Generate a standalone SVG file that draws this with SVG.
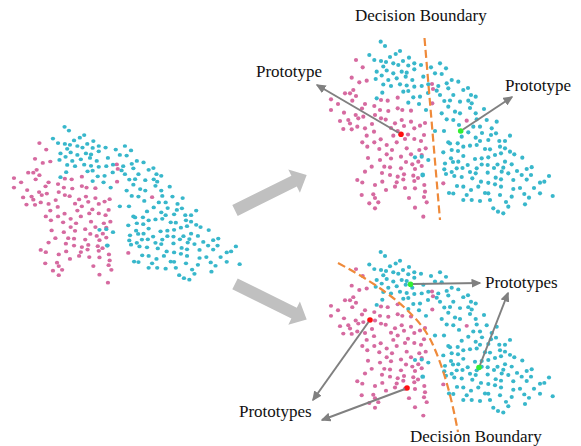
<svg xmlns="http://www.w3.org/2000/svg" xmlns:xlink="http://www.w3.org/1999/xlink" width="581" height="446" viewBox="0 0 581 446">
<style>
.p{fill:#d66aa0}
.c{fill:#38b7cb}
.lbl{font-family:"Liberation Serif","Times New Roman",serif;font-size:17px;fill:#111}
.conn{stroke:#808080;stroke-width:2;fill:none}
.bnd{stroke:#ef8a3a;stroke-width:2.2;fill:none;stroke-dasharray:8,4}
.big{fill:#c0c0c0}
</style>
<defs>
<marker id="ah" markerUnits="userSpaceOnUse" markerWidth="10" markerHeight="9" refX="8.5" refY="4.5" orient="auto">
<path d="M0,0 L10,4.5 L0,9 z" fill="#808080"/>
</marker>
<g id="pts">
<g class="p">
<circle cx="356" cy="60" r="2.1"/><circle cx="362.7" cy="67.3" r="2.1"/><circle cx="351.7" cy="77.7" r="2.1"/><circle cx="359.3" cy="82.3" r="2.1"/><circle cx="366.7" cy="80.7" r="2.1"/><circle cx="353.3" cy="90" r="2.1"/><circle cx="350" cy="93.3" r="2.1"/><circle cx="356" cy="96" r="2.1"/><circle cx="345" cy="93.3" r="2.1"/><circle cx="331" cy="99.3" r="2.1"/><circle cx="352.3" cy="100.7" r="2.1"/><circle cx="331" cy="110" r="2.1"/><circle cx="344" cy="112.7" r="2.1"/><circle cx="365" cy="104" r="2.1"/><circle cx="362" cy="108.5" r="2.1"/><circle cx="374.3" cy="106" r="2.1"/><circle cx="381" cy="100" r="2.1"/><circle cx="387.7" cy="100.7" r="2.1"/><circle cx="397.7" cy="97.7" r="2.1"/><circle cx="380" cy="110" r="2.1"/><circle cx="388.3" cy="111" r="2.1"/><circle cx="397.7" cy="108.3" r="2.1"/><circle cx="402.3" cy="110" r="2.1"/><circle cx="411" cy="110.7" r="2.1"/><circle cx="355.7" cy="115" r="2.1"/><circle cx="348.3" cy="120" r="2.1"/><circle cx="350" cy="123.5" r="2.1"/><circle cx="340" cy="121" r="2.1"/><circle cx="358.3" cy="118.3" r="2.1"/><circle cx="363.3" cy="116.7" r="2.1"/><circle cx="375" cy="115" r="2.1"/><circle cx="381" cy="118.3" r="2.1"/><circle cx="385.7" cy="119.6" r="2.1"/><circle cx="395" cy="123.3" r="2.1"/><circle cx="401.7" cy="120" r="2.1"/><circle cx="404" cy="126" r="2.1"/><circle cx="411" cy="121.7" r="2.1"/><circle cx="420" cy="125.7" r="2.1"/><circle cx="425" cy="123" r="2.1"/><circle cx="432" cy="84" r="2.1"/><circle cx="433" cy="89" r="2.1"/><circle cx="432.3" cy="103.3" r="2.1"/><circle cx="466.7" cy="120.7" r="2.1"/><circle cx="343.3" cy="129" r="2.1"/><circle cx="351.7" cy="129.3" r="2.1"/><circle cx="357.3" cy="126.7" r="2.1"/><circle cx="365" cy="128.3" r="2.1"/><circle cx="366.7" cy="135.7" r="2.1"/><circle cx="374" cy="131.7" r="2.1"/><circle cx="362.3" cy="142.3" r="2.1"/><circle cx="367.3" cy="146.7" r="2.1"/><circle cx="374.3" cy="142.3" r="2.1"/><circle cx="380.7" cy="139.3" r="2.1"/><circle cx="386.7" cy="145" r="2.1"/><circle cx="379.3" cy="149" r="2.1"/><circle cx="393.3" cy="135.7" r="2.1"/><circle cx="396.7" cy="142.3" r="2.1"/><circle cx="397.7" cy="131" r="2.1"/><circle cx="405" cy="139" r="2.1"/><circle cx="408" cy="134.5" r="2.1"/><circle cx="414.3" cy="139" r="2.1"/><circle cx="414.3" cy="128.3" r="2.1"/><circle cx="424" cy="135" r="2.1"/><circle cx="421" cy="141" r="2.1"/><circle cx="406.7" cy="148.3" r="2.1"/><circle cx="411" cy="154.3" r="2.1"/><circle cx="419.3" cy="150" r="2.1"/><circle cx="421.7" cy="155" r="2.1"/><circle cx="425.7" cy="148.3" r="2.1"/><circle cx="386.7" cy="154.3" r="2.1"/><circle cx="380" cy="160" r="2.1"/><circle cx="391" cy="158.5" r="2.1"/><circle cx="401" cy="156.7" r="2.1"/><circle cx="412.3" cy="164.3" r="2.1"/><circle cx="418.3" cy="161.7" r="2.1"/><circle cx="421.7" cy="166" r="2.1"/><circle cx="415" cy="169" r="2.1"/><circle cx="401" cy="168.3" r="2.1"/><circle cx="371.7" cy="166.7" r="2.1"/><circle cx="365" cy="171.7" r="2.1"/><circle cx="384.3" cy="166.7" r="2.1"/><circle cx="390" cy="167.3" r="2.1"/><circle cx="382" cy="173" r="2.1"/><circle cx="390" cy="175" r="2.1"/><circle cx="397.7" cy="176.7" r="2.1"/><circle cx="404" cy="174.3" r="2.1"/><circle cx="413.3" cy="175.7" r="2.1"/><circle cx="414.3" cy="181" r="2.1"/><circle cx="403.3" cy="179.5" r="2.1"/><circle cx="396.7" cy="182.3" r="2.1"/><circle cx="395" cy="186.7" r="2.1"/><circle cx="357.3" cy="180" r="2.1"/><circle cx="362.3" cy="182.5" r="2.1"/><circle cx="375" cy="185" r="2.1"/><circle cx="382.3" cy="181.7" r="2.1"/><circle cx="424.3" cy="185" r="2.1"/><circle cx="415" cy="188.3" r="2.1"/><circle cx="425" cy="191.7" r="2.1"/><circle cx="361.7" cy="195" r="2.1"/><circle cx="373.3" cy="194.3" r="2.1"/><circle cx="375" cy="198" r="2.1"/><circle cx="424" cy="197" r="2.1"/><circle cx="426.7" cy="202.3" r="2.1"/><circle cx="369.3" cy="203.3" r="2.1"/><circle cx="378.3" cy="202.3" r="2.1"/><circle cx="375" cy="208.3" r="2.1"/><circle cx="415" cy="207.7" r="2.1"/><circle cx="423.3" cy="216.7" r="2.1"/><circle cx="443.3" cy="183.3" r="2.1"/>
<circle cx="338" cy="104" r="2.1"/><circle cx="372" cy="124" r="2.1"/><circle cx="391" cy="128" r="2.1"/><circle cx="386" cy="190" r="2.1"/><circle cx="405" cy="188" r="2.1"/><circle cx="409" cy="198" r="2.1"/><circle cx="418" cy="178" r="2.1"/><circle cx="392" cy="150" r="2.1"/><circle cx="368" cy="158" r="2.1"/><circle cx="406" cy="162" r="2.1"/>
</g>
<g class="c">
<circle cx="380.7" cy="41.7" r="2.1"/><circle cx="385" cy="46" r="2.1"/><circle cx="395.7" cy="54" r="2.1"/><circle cx="369.3" cy="55" r="2.1"/><circle cx="374.3" cy="60" r="2.1"/><circle cx="381" cy="61" r="2.1"/><circle cx="386" cy="62" r="2.1"/><circle cx="393.3" cy="63.3" r="2.1"/><circle cx="398.3" cy="65" r="2.1"/><circle cx="403" cy="61" r="2.1"/><circle cx="409" cy="57.7" r="2.1"/><circle cx="414.3" cy="63.3" r="2.1"/><circle cx="408.3" cy="65.5" r="2.1"/><circle cx="383.3" cy="66.5" r="2.1"/><circle cx="386.7" cy="70.5" r="2.1"/><circle cx="393.3" cy="73.3" r="2.1"/><circle cx="401.7" cy="71.7" r="2.1"/><circle cx="406.7" cy="72.7" r="2.1"/><circle cx="414.3" cy="69.3" r="2.1"/><circle cx="421" cy="65" r="2.1"/><circle cx="431" cy="67.3" r="2.1"/><circle cx="440" cy="63.3" r="2.1"/><circle cx="435" cy="73.3" r="2.1"/><circle cx="441.7" cy="74" r="2.1"/><circle cx="376.7" cy="71.7" r="2.1"/><circle cx="381.7" cy="75.5" r="2.1"/><circle cx="375.7" cy="79" r="2.1"/><circle cx="388.3" cy="80" r="2.1"/><circle cx="396.7" cy="78.3" r="2.1"/><circle cx="405.7" cy="76.7" r="2.1"/><circle cx="412.3" cy="80" r="2.1"/><circle cx="423.3" cy="76.7" r="2.1"/><circle cx="383.3" cy="84.5" r="2.1"/><circle cx="391" cy="86" r="2.1"/><circle cx="400" cy="84.3" r="2.1"/><circle cx="406.7" cy="85.5" r="2.1"/><circle cx="414.3" cy="86.7" r="2.1"/><circle cx="421.7" cy="86" r="2.1"/><circle cx="428.3" cy="84.3" r="2.1"/><circle cx="438.3" cy="86" r="2.1"/><circle cx="382.3" cy="92.7" r="2.1"/><circle cx="403.3" cy="91.7" r="2.1"/><circle cx="408.3" cy="91" r="2.1"/><circle cx="376.7" cy="98.3" r="2.1"/><circle cx="413.3" cy="97.3" r="2.1"/><circle cx="420" cy="96.7" r="2.1"/><circle cx="440" cy="95" r="2.1"/><circle cx="408.3" cy="102.7" r="2.1"/><circle cx="444.3" cy="101" r="2.1"/><circle cx="426" cy="110" r="2.1"/><circle cx="441.7" cy="113.3" r="2.1"/><circle cx="436.7" cy="90.7" r="2.1"/><circle cx="446" cy="68.3" r="2.1"/><circle cx="451.7" cy="80" r="2.1"/><circle cx="458.3" cy="81.7" r="2.1"/><circle cx="446.7" cy="83.3" r="2.1"/><circle cx="448.3" cy="88.3" r="2.1"/><circle cx="453.3" cy="95" r="2.1"/><circle cx="463.3" cy="90" r="2.1"/><circle cx="468" cy="88" r="2.1"/><circle cx="471" cy="95" r="2.1"/><circle cx="475.7" cy="96.7" r="2.1"/><circle cx="450" cy="100.5" r="2.1"/><circle cx="460" cy="101.7" r="2.1"/><circle cx="468.3" cy="100.7" r="2.1"/><circle cx="448.3" cy="106.7" r="2.1"/><circle cx="455" cy="111.7" r="2.1"/><circle cx="460" cy="113.3" r="2.1"/><circle cx="471.7" cy="103.3" r="2.1"/><circle cx="475.7" cy="113.3" r="2.1"/><circle cx="484" cy="109" r="2.1"/><circle cx="446.7" cy="119.3" r="2.1"/><circle cx="453.3" cy="120" r="2.1"/><circle cx="476.7" cy="119.3" r="2.1"/><circle cx="486.7" cy="120" r="2.1"/><circle cx="496.7" cy="121.7" r="2.1"/><circle cx="473.3" cy="126.7" r="2.1"/><circle cx="480" cy="126.7" r="2.1"/><circle cx="491.7" cy="128.3" r="2.1"/><circle cx="435" cy="131" r="2.1"/><circle cx="444" cy="131" r="2.1"/><circle cx="415" cy="157.3" r="2.1"/><circle cx="428.3" cy="160" r="2.1"/><circle cx="443.3" cy="152.3" r="2.1"/><circle cx="444.3" cy="169.3" r="2.1"/><circle cx="422.7" cy="175" r="2.4"/><circle cx="468.3" cy="132.3" r="2.1"/><circle cx="496" cy="133.3" r="2.1"/><circle cx="461.7" cy="136.7" r="2.1"/><circle cx="491" cy="135" r="2.1"/><circle cx="475.7" cy="137.7" r="2.1"/><circle cx="480" cy="141" r="2.1"/><circle cx="488.3" cy="140" r="2.1"/><circle cx="499.3" cy="141" r="2.1"/><circle cx="505" cy="141" r="2.1"/><circle cx="510" cy="135.7" r="2.1"/><circle cx="448.3" cy="142.3" r="2.1"/><circle cx="457.7" cy="143.3" r="2.1"/><circle cx="463.3" cy="146.7" r="2.1"/><circle cx="470" cy="145.7" r="2.1"/><circle cx="476.7" cy="145" r="2.1"/><circle cx="485" cy="149" r="2.1"/><circle cx="490" cy="149.3" r="2.1"/><circle cx="500" cy="146.7" r="2.1"/><circle cx="505" cy="148.3" r="2.1"/><circle cx="510" cy="151.7" r="2.1"/><circle cx="514.3" cy="154.3" r="2.1"/><circle cx="522.3" cy="157.7" r="2.1"/><circle cx="451.7" cy="150" r="2.1"/><circle cx="463.3" cy="156" r="2.1"/><circle cx="451" cy="158.3" r="2.1"/><circle cx="458.3" cy="161.7" r="2.1"/><circle cx="467.7" cy="165" r="2.1"/><circle cx="475" cy="159" r="2.1"/><circle cx="481.7" cy="158.3" r="2.1"/><circle cx="488.3" cy="157.3" r="2.1"/><circle cx="495" cy="155" r="2.1"/><circle cx="501" cy="153.3" r="2.1"/><circle cx="505" cy="161.7" r="2.1"/><circle cx="511.7" cy="164.3" r="2.1"/><circle cx="503.3" cy="167.7" r="2.1"/><circle cx="497.5" cy="164.5" r="2.1"/><circle cx="487.7" cy="165" r="2.1"/><circle cx="481.7" cy="164.5" r="2.1"/><circle cx="462.5" cy="168" r="2.1"/><circle cx="456.7" cy="168.3" r="2.1"/><circle cx="451.7" cy="172" r="2.1"/><circle cx="446" cy="174" r="2.1"/><circle cx="454.3" cy="176" r="2.1"/><circle cx="461.7" cy="177" r="2.1"/><circle cx="476.7" cy="168.3" r="2.1"/><circle cx="475.7" cy="173.3" r="2.1"/><circle cx="487.7" cy="172.7" r="2.1"/><circle cx="495.7" cy="177.7" r="2.1"/><circle cx="501.7" cy="171.7" r="2.1"/><circle cx="501" cy="179.3" r="2.1"/><circle cx="508.3" cy="173.3" r="2.1"/><circle cx="526.7" cy="169" r="2.1"/><circle cx="531.7" cy="167.2" r="2.1"/><circle cx="521.7" cy="175" r="2.1"/><circle cx="531" cy="175" r="2.1"/><circle cx="526.7" cy="179.6" r="2.1"/><circle cx="472.3" cy="178.3" r="2.1"/><circle cx="481" cy="181.7" r="2.1"/><circle cx="488.3" cy="182.8" r="2.1"/><circle cx="478.3" cy="186.7" r="2.1"/><circle cx="463.3" cy="186.7" r="2.1"/><circle cx="495" cy="184.3" r="2.1"/><circle cx="501" cy="186.7" r="2.1"/><circle cx="513.3" cy="180" r="2.1"/><circle cx="513.3" cy="189" r="2.1"/><circle cx="540" cy="182.7" r="2.1"/><circle cx="544.3" cy="181.7" r="2.1"/><circle cx="549" cy="176" r="2.1"/><circle cx="540" cy="193.3" r="2.1"/><circle cx="552.7" cy="196" r="2.1"/><circle cx="524.3" cy="194" r="2.1"/><circle cx="529" cy="197.7" r="2.1"/><circle cx="525" cy="204.3" r="2.1"/><circle cx="511.7" cy="196.7" r="2.1"/><circle cx="500" cy="195" r="2.1"/><circle cx="488.3" cy="193.3" r="2.1"/><circle cx="490" cy="200" r="2.1"/><circle cx="480" cy="201" r="2.1"/><circle cx="466.7" cy="195" r="2.1"/><circle cx="463.3" cy="200" r="2.1"/><circle cx="453.3" cy="193.5" r="2.1"/><circle cx="493.3" cy="208.3" r="2.1"/><circle cx="508.3" cy="206.7" r="2.1"/><circle cx="503.3" cy="213.3" r="2.1"/><circle cx="445" cy="163.5" r="2.1"/><circle cx="450" cy="143.5" r="2.1"/><circle cx="453" cy="162" r="2.1"/><circle cx="449" cy="193" r="2.1"/><circle cx="471.7" cy="200" r="2.1"/><circle cx="485" cy="193" r="2.1"/><circle cx="498" cy="211.7" r="2.1"/><circle cx="421.7" cy="156.7" r="2.1"/>
<circle cx="470" cy="108" r="2.1"/><circle cx="482" cy="133" r="2.1"/><circle cx="458" cy="151" r="2.1"/><circle cx="470" cy="172" r="2.1"/><circle cx="494" cy="168" r="2.1"/><circle cx="517" cy="171" r="2.1"/><circle cx="520" cy="188" r="2.1"/><circle cx="534" cy="188" r="2.1"/><circle cx="506" cy="202" r="2.1"/><circle cx="457" cy="186" r="2.1"/><circle cx="471" cy="190" r="2.1"/><circle cx="428" cy="93" r="2.1"/><circle cx="419" cy="104" r="2.1"/><circle cx="390" cy="57" r="2.1"/><circle cx="400" cy="51" r="2.1"/><circle cx="459" cy="125" r="2.1"/>
</g>
</g>
</defs>

<g id="left-plot">
<use xlink:href="#pts" href="#pts" transform="matrix(1.018,0,0,0.891,-323,89.6)"/>
</g>

<g id="big-arrows">
<polygon id="arrow-up" class="big" points="232.3,205.1 291.4,175.8 288.3,169.6 306.7,175 299.9,192.8 296.8,186.6 237.7,215.9"/>
<polygon id="arrow-down" class="big" points="232.3,289.3 291.4,318.6 288.3,324.8 306.7,319.4 299.9,301.6 296.8,307.8 237.7,278.5"/>
</g>

<g id="top-plot">
<use xlink:href="#pts" href="#pts"/>
<path id="top-boundary" class="bnd" d="M424.5,38 L440,220"/>
<circle id="top-proto-red" cx="401" cy="134.3" r="2.8" fill="#ff1010"/>
<circle id="top-proto-green" cx="460.7" cy="131" r="2.8" fill="#33ee33"/>
</g>

<g id="bottom-plot">
<use xlink:href="#pts" href="#pts" transform="matrix(1,0,0,0.935,0,213)"/>
<path id="bottom-boundary" class="bnd" d="M338,263 C385,288 420,315 433,345 C445,372 452,400 458,432"/>
<circle id="bot-proto-red1" cx="370" cy="320" r="2.8" fill="#ff1010"/>
<circle id="bot-proto-red2" cx="407" cy="388" r="2.8" fill="#ff1010"/>
<circle id="bot-proto-green1" cx="410.5" cy="284.3" r="2.8" fill="#33ee33"/>
<circle id="bot-proto-green2" cx="479" cy="367.5" r="2.8" fill="#33ee33"/>
</g>

<g id="connectors">
<line class="conn" x1="399" y1="133" x2="317" y2="85" marker-end="url(#ah)"/>
<line class="conn" x1="463" y1="129.5" x2="512" y2="97" marker-end="url(#ah)"/>
<line class="conn" x1="413" y1="284" x2="480" y2="283" marker-end="url(#ah)"/>
<line class="conn" x1="480" y1="365" x2="508" y2="293" marker-end="url(#ah)"/>
<line class="conn" x1="368.5" y1="322" x2="313" y2="400" marker-end="url(#ah)"/>
<line class="conn" x1="405" y1="389" x2="322" y2="420" marker-end="url(#ah)"/>
</g>

<g id="labels">
<text class="lbl" x="355" y="21">Decision Boundary</text>
<text class="lbl" x="256" y="77">Prototype</text>
<text class="lbl" x="505" y="91">Prototype</text>
<text class="lbl" x="485" y="288">Prototypes</text>
<text class="lbl" x="239" y="417">Prototypes</text>
<text class="lbl" x="410" y="442">Decision Boundary</text>
</g>
</svg>
